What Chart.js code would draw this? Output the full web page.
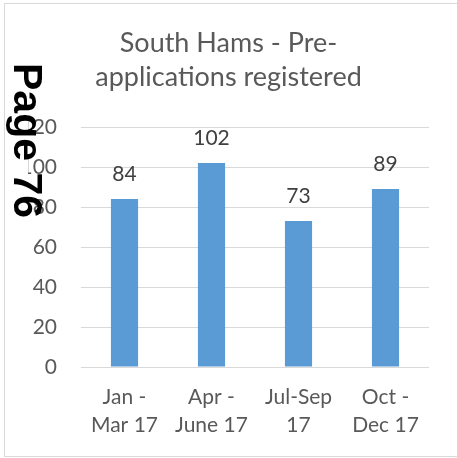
<!DOCTYPE html>
<html>
<head>
<meta charset="utf-8">
<script src="https://cdn.jsdelivr.net/npm/chart.js@4/dist/chart.umd.min.js"></script>
<style>
  body { margin: 0; background: #fff; }
  #wrap { position: relative; width: 457px; height: 458px; overflow: hidden; }
  #frame { position: absolute; left: 4px; top: 3px; width: 470px; height: 452px; border: 1px solid #d9d9d9; }
  #box { position: absolute; left: 0; top: 0; width: 457px; height: 458px; }
  #stamp {
    position: absolute; left: 48px; top: 63px;
    font-family: "Liberation Sans", Arial, sans-serif; font-size: 41px; line-height: 41px;
    font-weight: bold; color: #000; white-space: nowrap;
    transform: rotate(90deg); transform-origin: 0 0;
  }
</style>
</head>
<body>
<div id="wrap">
  <div id="frame"></div>
  <div id="box"><canvas id="myChart"></canvas></div>
  <div id="stamp">Page 76</div>
</div>
<script>
const quarters = [["Jan -", "Mar 17"], ["Apr -", "June 17"], ["Jul-Sep", "17"], ["Oct -", "Dec 17"]];
const registered = [84, 102, 73, 89];
const yTicks = [0, 20, 40, 60, 80, 100, 120];
const chartTitle = ["South Hams - Pre-", "applications registered"];

// numbers above bars
const barValues = {
    id: "barValues",
    afterDatasetsDraw(chart) {
        const ctx = chart.ctx;
        const meta = chart.getDatasetMeta(0);
        ctx.save();
        ctx.font = "21px Lato";
        ctx.fillStyle = "#404040";
        ctx.textAlign = "center";
        ctx.textBaseline = "alphabetic";
        meta.data.forEach(function (bar, i) {
            ctx.fillText(String(chart.data.datasets[0].data[i]), bar.x, bar.y - 18);
        });
        ctx.restore();
    }
};

new Chart("myChart", {
    type: "bar",
    data: {
        labels: quarters,
        datasets: [{
            data: registered,
            backgroundColor: "#5b9bd5",
            barPercentage: 0.52,
            categoryPercentage: 0.6
        }]
    },
    options: {
        responsive: true,
        maintainAspectRatio: false,
        animation: false,
        layout: { padding: { left: 28, right: 28, top: 0, bottom: 0 } },
        plugins: {
            legend: { display: false },
            tooltip: { enabled: false },
            title: {
                display: true,
                text: chartTitle,
                color: "#595959",
                font: { family: "Lato", size: 27, weight: "normal", lineHeight: 1.26 },
                padding: { top: 26, bottom: 33 }
            }
        },
        scales: {
            x: {
                grid: { display: false, drawTicks: false },
                border: { display: false },
                ticks: {
                    color: "#595959",
                    font: { family: "Lato", size: 21, lineHeight: 1.35 },
                    maxRotation: 0,
                    autoSkip: false,
                    padding: 16
                },
                afterFit(scale) { scale.height = 91; }
            },
            y: {
                min: 0,
                max: 120,
                grid: { color: "#d9d9d9", drawTicks: false },
                border: { display: false },
                afterBuildTicks(scale) { scale.ticks = yTicks.map(v => ({ value: v })); },
                ticks: {
                    color: "#595959",
                    font: { family: "Lato", size: 21 },
                    padding: 24
                },
                afterFit(scale) { scale.width = 53; }
            }
        }
    },
    plugins: [barValues]
});
</script>
</body>
</html>
